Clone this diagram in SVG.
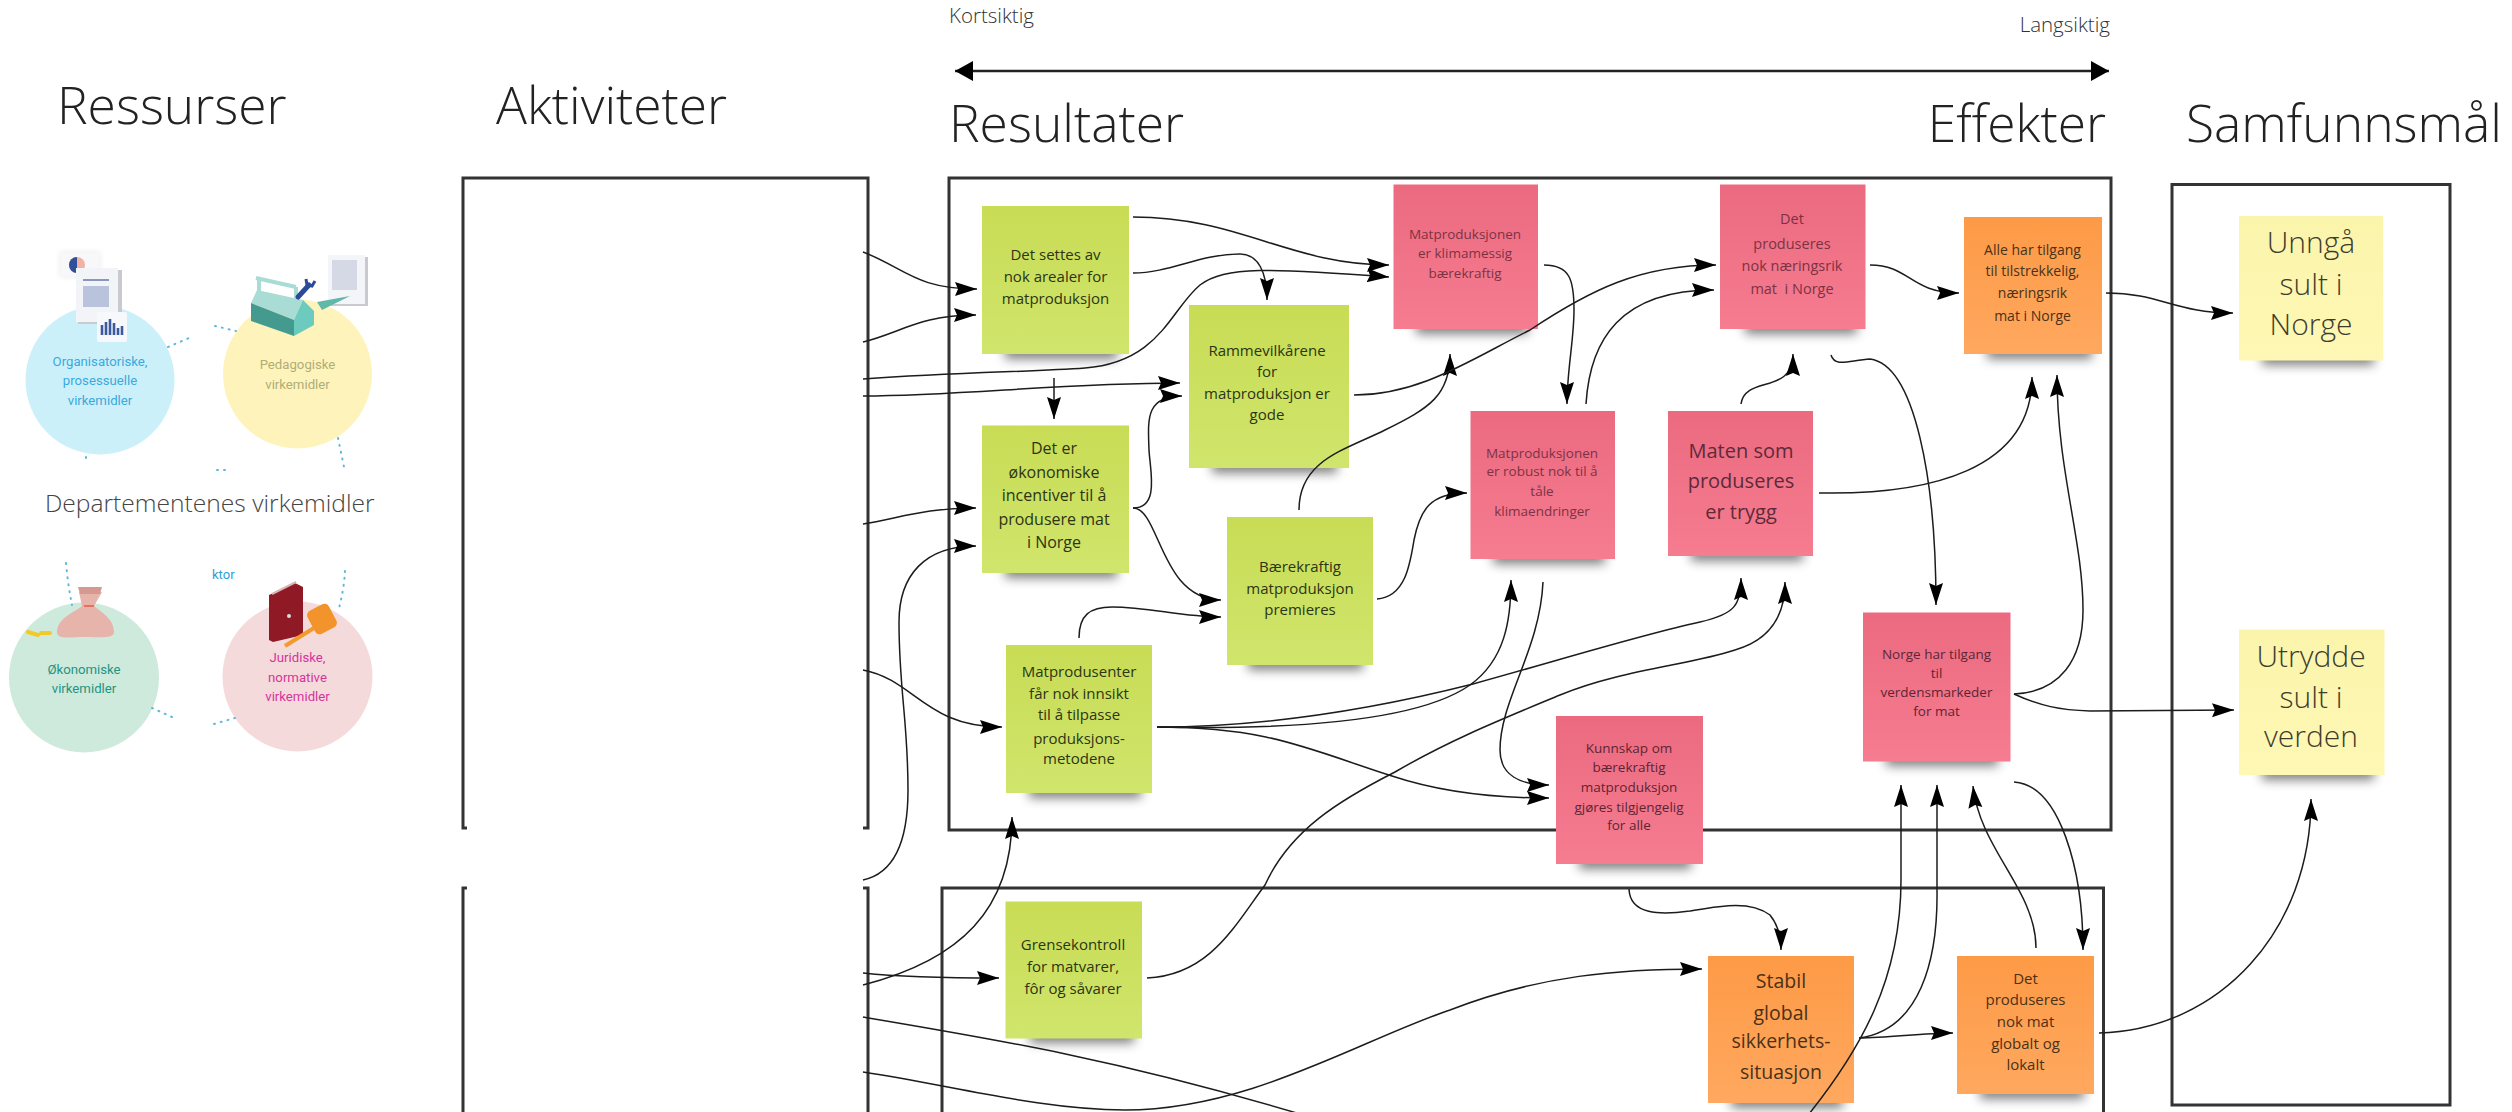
<svg xmlns="http://www.w3.org/2000/svg" width="2512" height="1112" viewBox="0 0 2512 1112">
<style>
text{font-family:"Open Sans","Noto Sans","Liberation Sans",sans-serif}
.h{font-size:51.5px;font-weight:300;fill:#222}
.s{font-size:20.5px;font-weight:300;fill:#333}
.frame{fill:none;stroke:#333;stroke-width:3}
.c{fill:none;stroke:#1c1c1c;stroke-width:1.5}
.a{marker-end:url(#ah)}
.sh{fill:#000;opacity:.5;filter:url(#bl)}
.t{text-anchor:middle;fill:#2c3513}
.r{text-anchor:middle;fill:#7d3243}
.o{text-anchor:middle;fill:#4a3118}
.y{text-anchor:middle;fill:#3d3d2c;font-size:30px;font-weight:300}
.v{font-family:Roboto,"Liberation Sans",sans-serif;font-size:13.2px;text-anchor:middle}
.dot{fill:none;stroke:#5bb8e0;stroke-width:2;stroke-linecap:round;stroke-dasharray:1 6}
</style>
<defs>
<linearGradient id="gg" x1="0" y1="0" x2="0" y2="1"><stop offset="0" stop-color="#c8dc55"/><stop offset="1" stop-color="#d0e56c"/></linearGradient>
<linearGradient id="gr" x1="0" y1="0" x2="0" y2="1"><stop offset="0" stop-color="#eb6a80"/><stop offset="1" stop-color="#f67c90"/></linearGradient>
<linearGradient id="go" x1="0" y1="0" x2="0" y2="1"><stop offset="0" stop-color="#fd9a46"/><stop offset="1" stop-color="#ffa85f"/></linearGradient>
<linearGradient id="gy" x1="0" y1="0" x2="0" y2="1"><stop offset="0" stop-color="#fbf4ab"/><stop offset="1" stop-color="#fff8b5"/></linearGradient>
<filter id="bl" x="-20%" y="-100%" width="140%" height="300%"><feGaussianBlur stdDeviation="5.5"/></filter>
<filter id="bs" x="-30%" y="-30%" width="160%" height="160%"><feGaussianBlur stdDeviation="3"/></filter>
<marker id="ah" markerUnits="userSpaceOnUse" markerWidth="24" markerHeight="16" refX="22" refY="7" orient="auto"><path d="M0,0 L22,7 L0,14 L3,7Z" fill="#000"/></marker>
<marker id="big" markerUnits="userSpaceOnUse" markerWidth="20" markerHeight="22" refX="18" refY="10" orient="auto-start-reverse"><path d="M0,0 L18,10 L0,20Z" fill="#000"/></marker>
</defs>
<rect width="2512" height="1112" fill="#fff"/>

<g id="headers">
<text class="h" x="57" y="124">Ressurser</text>
<text class="h" x="496" y="124">Aktiviteter</text>
<text class="h" x="949" y="142">Resultater</text>
<text class="h" x="2106" y="142" text-anchor="end">Effekter</text>
<text class="h" x="2186" y="142">Samfunnsmål</text>
<text class="s" x="949" y="23">Kortsiktig</text>
<text class="s" x="2110" y="32" text-anchor="end">Langsiktig</text>
</g>

<g id="frames">
<path class="frame" d="M467,828 H463 V178 H868 V828 H863"/>
<path class="frame" d="M467,888 H463 V1114 M863,888 H868 V1114"/>
<rect class="frame" x="949" y="178" width="1162" height="652"/>
<path class="frame" d="M942,1114 V888 H2103.5 V1114"/>
<rect class="frame" x="2172" y="184.5" width="278" height="920.5"/>
<path d="M955,71 H2109" fill="none" stroke="#222" stroke-width="2.4" marker-start="url(#big)" marker-end="url(#big)"/>
</g>

<g id="resources">
<g id="res-org">
<circle cx="100" cy="380" r="74.5" fill="#ccf0fa"/>
<rect x="60" y="252" width="40" height="25" rx="2" fill="#eee" filter="url(#bs)"/>
<rect x="61" y="253" width="38" height="23" rx="2" fill="#f8f8fa"/>
<circle cx="77" cy="265" r="8" fill="#efb3a5"/><path d="M77,257 A8,8 0 0 0 77,273Z" fill="#2f4f9a"/>
<rect x="78" y="270" width="44" height="54" fill="#c9c9d0"/><rect x="76" y="268" width="42" height="54" fill="#f3f4f7"/>
<rect x="83" y="286" width="26" height="21" fill="#b9c4dc"/><rect x="83" y="279" width="26" height="2" fill="#8797c0"/>
<rect x="97" y="312" width="30" height="30" rx="2" fill="#f7f8fb"/>
<path d="M102,335V325M106,335V322M110,335V319M114,335V323M118,335V328M122,335V326" stroke="#3d5a9e" stroke-width="2.6"/>
<text class="v" fill="#3aa9dd"><tspan x="100" y="366">Organisatoriske,</tspan><tspan x="100" y="385">prosessuelle</tspan><tspan x="100" y="405">virkemidler</tspan></text>
</g>
<g id="res-ped">
<circle cx="297.5" cy="374" r="74.5" fill="#fef4bb"/>
<rect x="331" y="257" width="37" height="49" fill="#c9c9d0"/><rect x="328" y="255" width="37" height="49" fill="#f4f5f8"/>
<rect x="332" y="260" width="25" height="30" fill="#d5d9e6"/>
<path d="M322,310 L350,296 L317,302Z" fill="#5fb8a8"/>
<path d="M256,278 L296,287 M259,279 V296 M296,287 V300" fill="none" stroke="#a8dcd4" stroke-width="4"/>
<path d="M251,303 L257,290 L303,300 L294,320Z" fill="#a8dcd4"/>
<path d="M251,303 L294,320 V336 L251,321Z" fill="#449a8e"/>
<path d="M294,320 L303,300 L314,311 V325 L294,336Z" fill="#6ccabe"/>
<path d="M298,297 L309,285" stroke="#2b4a9a" stroke-width="5" stroke-linecap="round"/><path d="M306,279 L307,285 L312,286 L315,281" fill="none" stroke="#2b4a9a" stroke-width="3"/>
<text class="v" fill="#b0ad78"><tspan x="297.5" y="369">Pedagogiske</tspan><tspan x="297.5" y="389">virkemidler</tspan></text>
</g>
<g id="res-oko">
<circle cx="84" cy="677.5" r="75" fill="#ceeadd"/>
<path d="M57,632 C57,618 75,612 82,606 L79,592 L102,592 L94,606 C104,614 114,620 114,632 C114,639 100,637 85,637 C70,637 57,640 57,632Z" fill="#e6b4aa"/>
<path d="M78,587 L102,587 L100,594 L80,594Z" fill="#d49a92"/><path d="M84,606 H94" stroke="#e8705f" stroke-width="2"/>
<path d="M28,632 L38,635 M41,633 H50" stroke="#f2c92a" stroke-width="4" stroke-linecap="round"/>
<text class="v" fill="#1f9484"><tspan x="84" y="674">Økonomiske</tspan><tspan x="84" y="693">virkemidler</tspan></text>
</g>
<g id="res-jur">
<circle cx="297.5" cy="676.5" r="75" fill="#f5dadc"/>
<path d="M269,595 L295,583 L303,587 L303,635 L273,642 L269,640Z" fill="#8f1a25"/>
<path d="M272,594 L296,582" stroke="#d9b6b6" stroke-width="2"/>
<circle cx="289" cy="616" r="2" fill="#ddd"/>
<path d="M285,646 L322,623" stroke="#f39a2c" stroke-width="4"/>
<rect x="310" y="606" width="24" height="26" rx="5" transform="rotate(-28 322 619)" fill="#f2932b"/>
<text class="v" fill="#d6349b"><tspan x="297.5" y="662">Juridiske,</tspan><tspan x="297.5" y="682">normative</tspan><tspan x="297.5" y="701">virkemidler</tspan></text>
</g>
<g id="res-dots">
<path class="dot" d="M168,347 L189,338"/><path class="dot" d="M215,326 L236,331"/><path class="dot" d="M338,438 L344,467"/>
<path class="dot" d="M86,457 L86,458"/><path class="dot" d="M217,470 L228,470"/>
<path class="dot" d="M66,563 Q68,585 72,605"/><path class="dot" d="M345,571 Q344,590 338,612"/>
<path class="dot" d="M152,708 L172,717"/><path class="dot" d="M214,724 L235,718"/>
</g>
<text x="212" y="579" font-size="13" style="font-family:Roboto,sans-serif" fill="#2ea0d8">ktor</text>
<text x="45" y="512" font-size="24.6" font-weight="300" fill="#444">Departementenes virkemidler</text>
</g>

<g id="n-g1"><rect class="sh" x="1005" y="344" width="112" height="15"/><rect x="982" y="206" width="147" height="148" fill="url(#gg)"/>
<text class="t" font-size="15"><tspan x="1055.5" y="259.5">Det settes av</tspan><tspan x="1055.5" y="281.5">nok arealer for</tspan><tspan x="1055.5" y="304">matproduksjon</tspan></text></g>
<g id="n-g2"><rect class="sh" x="1212" y="458" width="125" height="15"/><rect x="1189" y="305" width="160" height="163" fill="url(#gg)"/>
<text class="t" font-size="15"><tspan x="1267" y="356">Rammevilkårene</tspan><tspan x="1267" y="377">for</tspan><tspan x="1267" y="399">matproduksjon er</tspan><tspan x="1267" y="420">gode</tspan></text></g>
<g id="n-g3"><rect class="sh" x="1005" y="563" width="112" height="15"/><rect x="982" y="425.5" width="147" height="147.5" fill="url(#gg)"/>
<text class="t" font-size="16"><tspan x="1054" y="454">Det er</tspan><tspan x="1054" y="478">økonomiske</tspan><tspan x="1054" y="501">incentiver til å</tspan><tspan x="1054" y="525">produsere mat</tspan><tspan x="1054" y="548">i Norge</tspan></text></g>
<g id="n-g4"><rect class="sh" x="1248" y="655" width="115" height="15"/><rect x="1227" y="517" width="146" height="148" fill="url(#gg)"/>
<text class="t" font-size="15"><tspan x="1300" y="571.5">Bærekraftig</tspan><tspan x="1300" y="594">matproduksjon</tspan><tspan x="1300" y="615">premieres</tspan></text></g>
<g id="n-g5"><rect class="sh" x="1029" y="783" width="112" height="15"/><rect x="1006" y="645" width="146" height="148" fill="url(#gg)"/>
<text class="t" font-size="15"><tspan x="1079" y="677">Matprodusenter</tspan><tspan x="1079" y="699">får nok innsikt</tspan><tspan x="1079" y="720">til å tilpasse</tspan><tspan x="1079" y="743.5">produksjons-</tspan><tspan x="1079" y="764">metodene</tspan></text></g>
<g id="n-g6"><rect class="sh" x="1030" y="1028" width="104" height="15"/><rect x="1005.5" y="901.5" width="136.5" height="137" fill="url(#gg)"/>
<text class="t" font-size="15"><tspan x="1073" y="950">Grensekontroll</tspan><tspan x="1073" y="972">for matvarer,</tspan><tspan x="1073" y="994">fôr og såvarer</tspan></text></g>
<g id="n-r1"><rect class="sh" x="1416" y="319" width="112" height="15"/><rect x="1393.5" y="184.5" width="144.5" height="144.5" fill="url(#gr)"/>
<text class="r" font-size="13.5"><tspan x="1465" y="238.5">Matproduksjonen</tspan><tspan x="1465" y="258">er klimamessig</tspan><tspan x="1465" y="278">bærekraftig</tspan></text></g>
<g id="n-r2"><rect class="sh" x="1493" y="549" width="112" height="15"/><rect x="1470.5" y="411" width="144.5" height="148" fill="url(#gr)"/>
<text class="r" font-size="13.5"><tspan x="1542" y="458">Matproduksjonen</tspan><tspan x="1542" y="476">er robust nok til å</tspan><tspan x="1542" y="495.5">tåle</tspan><tspan x="1542" y="515.5">klimaendringer</tspan></text></g>
<g id="n-r3"><rect class="sh" x="1745" y="319" width="112" height="15"/><rect x="1720" y="184.5" width="145.5" height="144.5" fill="url(#gr)"/>
<text class="r" font-size="14.5" xml:space="preserve"><tspan x="1792" y="224">Det</tspan><tspan x="1792" y="249">produseres</tspan><tspan x="1792" y="271">nok næringsrik</tspan><tspan x="1792" y="294">mat  i Norge</tspan></text></g>
<g id="n-r4"><rect class="sh" x="1691" y="546" width="112" height="15"/><rect x="1668" y="411" width="145" height="145" fill="url(#gr)"/>
<text class="r" font-size="20" style="fill:#5e2a38"><tspan x="1741" y="458">Maten som</tspan><tspan x="1741" y="488">produseres</tspan><tspan x="1741" y="518.5">er trygg</tspan></text></g>
<g id="n-r5"><rect class="sh" x="1579" y="854" width="112" height="15"/><rect x="1556" y="716" width="147" height="148" fill="url(#gr)"/>
<text class="r" font-size="13.5" style="fill:#5c2534"><tspan x="1629" y="752.5">Kunnskap om</tspan><tspan x="1629" y="772">bærekraftig</tspan><tspan x="1629" y="792">matproduksjon</tspan><tspan x="1629" y="812">gjøres tilgjengelig</tspan><tspan x="1629" y="830">for alle</tspan></text></g>
<g id="n-r6"><rect class="sh" x="1886" y="751" width="112" height="15"/><rect x="1863" y="612.5" width="147.5" height="149" fill="url(#gr)"/>
<text class="r" font-size="13.5" style="fill:#5c2534"><tspan x="1936.5" y="658.5">Norge har tilgang</tspan><tspan x="1936.5" y="678">til</tspan><tspan x="1936.5" y="697">verdensmarkeder</tspan><tspan x="1936.5" y="716">for mat</tspan></text></g>
<g id="n-o1"><rect class="sh" x="1987" y="344" width="105" height="15"/><rect x="1964" y="217" width="138" height="137" fill="url(#go)"/>
<text class="o" font-size="14"><tspan x="2032.5" y="255">Alle har tilgang</tspan><tspan x="2032.5" y="276">til tilstrekkelig,</tspan><tspan x="2032.5" y="298">næringsrik</tspan><tspan x="2032.5" y="320.5">mat i Norge</tspan></text></g>
<g id="n-o2"><rect class="sh" x="1731" y="1093" width="112" height="15"/><rect x="1708" y="956" width="146" height="147" fill="url(#go)"/>
<text class="o" font-size="19.5"><tspan x="1781" y="988">Stabil</tspan><tspan x="1781" y="1019.5">global</tspan><tspan x="1781" y="1048">sikkerhets-</tspan><tspan x="1781" y="1079">situasjon</tspan></text></g>
<g id="n-o3"><rect class="sh" x="1980" y="1084" width="104" height="15"/><rect x="1957" y="956" width="137" height="138" fill="url(#go)"/>
<text class="o" font-size="15"><tspan x="2025.5" y="983.5">Det</tspan><tspan x="2025.5" y="1005">produseres</tspan><tspan x="2025.5" y="1027">nok mat</tspan><tspan x="2025.5" y="1049">globalt og</tspan><tspan x="2025.5" y="1070">lokalt</tspan></text></g>
<g id="n-y1"><rect class="sh" x="2262" y="350" width="112" height="15"/><rect x="2239" y="216" width="144" height="144.5" fill="url(#gy)"/>
<text class="y"><tspan x="2311" y="253">Unngå</tspan><tspan x="2311" y="294.5">sult i</tspan><tspan x="2311" y="335">Norge</tspan></text></g>
<g id="n-y2"><rect class="sh" x="2262" y="765" width="112" height="15"/><rect x="2239" y="629.5" width="145.5" height="145.5" fill="url(#gy)"/>
<text class="y"><tspan x="2311" y="666.5">Utrydde</tspan><tspan x="2311" y="707.5">sult i</tspan><tspan x="2311" y="747">verden</tspan></text></g>

<g id="connectors">
<path class="c a" d="M863,252 C905,268 915,289 977,289"/>
<path class="c a" d="M863,342 C900,333 920,315 976,315"/>
<path class="c a" d="M863,379 C960,372 1030,372 1085,368 C1160,362 1170,310 1200,285 C1225,266 1270,268 1389,277"/>
<path class="c a" d="M863,396 C960,396 1060,383 1180,383"/>
<path class="c a" d="M1133,217 C1240,217 1290,265 1389,265"/>
<path class="c a" d="M1133,273 C1170,273 1200,254 1240,254 C1258,254 1267,272 1267,300"/>
<path class="c a" d="M1054,378 V419"/>
<path class="c a" d="M863,524 C900,518 925,508 976,508"/>
<path class="c a" d="M863,880 C900,872 908,830 908,790 C908,720 899,690 899,622 C899,575 925,546 976,546"/>
<path class="c a" d="M1133,508 C1160,508 1150,470 1149,450 C1148,420 1145,396 1182,396"/>
<path class="c a" d="M1133,508 C1160,508 1160,600 1221,600"/>
<path class="c a" d="M1079,638 C1079,615 1090,607 1112,607 C1150,607 1180,617 1221,617"/>
<path class="c a" d="M1299,510 C1299,460 1345,450 1385,430 C1430,408 1450,395 1450,354"/>
<path class="c a" d="M1354,395 C1420,395 1470,360 1530,330 C1590,290 1640,265 1716,265"/>
<path class="c a" d="M1544,265 C1570,265 1574,280 1574,310 C1574,340 1567,370 1567,404"/>
<path class="c a" d="M1586,404 C1590,340 1620,290 1714,290"/>
<path class="c a" d="M1377,599 C1405,597 1410,565 1414,540 C1420,510 1430,493 1467,493"/>
<path class="c a" d="M1157,727 C1300,730 1420,720 1470,685 C1505,660 1511,620 1511,580"/>
<path class="c a" d="M1157,727 C1260,727 1370,710 1473,684 C1560,660 1640,635 1700,622 C1735,614 1741,605 1741,578"/>
<path class="c a" d="M1157,727 C1270,727 1310,750 1392,776 C1440,792 1490,798 1549,798"/>
<path class="c a" d="M1543,582 C1540,650 1500,700 1500,750 C1500,775 1520,785 1549,785"/>
<path class="c a" d="M863,670 C915,680 925,727 1002,727"/>
<path class="c a" d="M863,985 C960,960 1012,910 1012,817"/>
<path class="c a" d="M863,973 C900,977 940,978 999,978"/>
<path class="c a" d="M1147,978 C1210,975 1235,925 1265,885 C1290,830 1340,800 1395,772 C1450,740 1500,720 1560,695 C1620,670 1690,665 1735,650 C1770,640 1785,615 1785,582"/>
<path class="c a" d="M863,1072 C950,1085 1040,1110 1125,1110 C1250,1110 1360,1040 1450,1010 C1540,975 1620,969 1702,969"/>
<path class="c" d="M863,1017 C1000,1040 1120,1060 1300,1114"/>
<path class="c a" d="M1809,1114 C1860,1050 1901,980 1901,880 L1901,785"/>
<path class="c a" d="M1859,1038 C1920,1030 1938,960 1937,890 L1937,785"/>
<path class="c a" d="M1859,1038 C1890,1038 1920,1033 1953,1033"/>
<path class="c a" d="M2036,948 C2036,890 1980,850 1973,786"/>
<path class="c a" d="M2014,782 C2060,785 2083,870 2083,950"/>
<path class="c a" d="M2099,1033 C2220,1030 2311,930 2311,799"/>
<path class="c a" d="M2014,694 C2040,706 2060,710 2090,711 L2234,710"/>
<path class="c a" d="M2014,694 C2060,692 2083,660 2083,610 C2083,540 2057,470 2057,375"/>
<path class="c a" d="M1819,493 C1930,495 2032,470 2032,377"/>
<path class="c a" d="M1741,404 C1745,375 1793,395 1793,354"/>
<path class="c a" d="M1870,265 C1910,265 1910,293 1959,293"/>
<path class="c a" d="M1831,355 C1835,368 1850,360 1870,359 C1915,365 1936,480 1936,605"/>
<path class="c a" d="M2106,293 C2160,293 2175,313 2233,313"/>
<path class="c a" d="M1629,889 C1630,915 1660,915 1690,911 C1720,906 1750,900 1770,915 C1778,925 1781,935 1781,950"/>
</g>
</svg>
